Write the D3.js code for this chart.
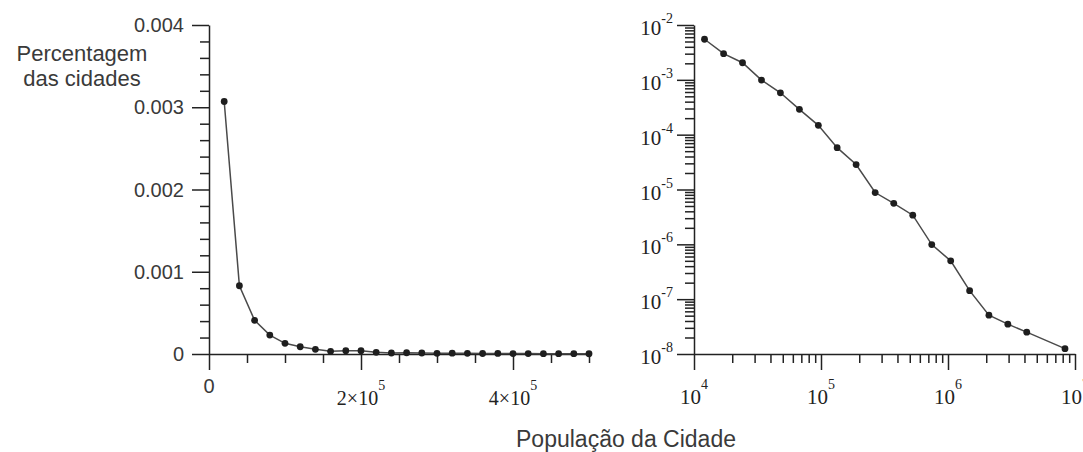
<!DOCTYPE html>
<html>
<head>
<meta charset="utf-8">
<script src="https://cdn.jsdelivr.net/npm/d3@7"></script>
<style>
  body { margin: 0; background: #fff; }
</style>
</head>
<body>
<svg></svg>
<script>
const size = {w: 1083, h: 452};
const svg = d3.select('svg')
    .attr('width', size.w)
    .attr('height', size.h);

// painel da esquerda (escala linear)
const linPop = [20000, 40000, 60000, 80000, 100000, 120000, 140000, 160000, 180000, 200000,
    220000, 240000, 260000, 280000, 300000, 320000, 340000, 360000, 380000, 400000,
    420000, 440000, 460000, 480000, 500000];
const linPct = [0.00307, 0.00083, 0.00041, 0.00023, 0.00013, 0.000088, 0.000057, 0.000033, 0.00004, 0.00004,
    0.00002, 0.000012, 0.000015, 0.000012, 0.000008, 0.00001, 0.000008, 0.000006, 0.000007, 0.000005,
    0.000005, 0.000004, 0.000004, 0.000004, 0.000003];
const linXTicks = [0, 200000, 400000];
const linXBase = ['0', '2\u00d710', '4\u00d710'];
const linXExp = ['', '5', '5'];
const linYTicks = [0, 0.001, 0.002, 0.003, 0.004];
const linYLabels = ['0', '0.001', '0.002', '0.003', '0.004'];

// painel da direita (log-log)
const logPop = [12100, 17100, 24100, 34000, 47900, 67600, 95300, 134000, 189000, 267000,
    374000, 528000, 745000, 1050000, 1480000, 2100000, 2960000, 4170000, 8340000];
const logPct = [5.5e-3, 3.0e-3, 2.05e-3, 9.9e-4, 5.8e-4, 2.9e-4, 1.48e-4, 5.8e-5, 2.85e-5, 8.8e-6,
    5.6e-6, 3.4e-6, 9.9e-7, 5.0e-7, 1.43e-7, 5.1e-8, 3.5e-8, 2.5e-8, 1.25e-8];
const logXTicks = [1e4, 1e5, 1e6, 1e7];
const logXExp = ['4', '5', '6', '7'];
const logYTicks = [1e-8, 1e-7, 1e-6, 1e-5, 1e-4, 1e-3, 1e-2];
const logYExp = ['-8', '-7', '-6', '-5', '-4', '-3', '-2'];

const axisColor = '#222';
const lineColor = '#4a4a4a';
const dotColor = '#1e1e1e';
const sans = '"Liberation Sans", Arial, sans-serif';
const serif = '"Liberation Serif", "Times New Roman", serif';

function styleAxis (g) {
    g.selectAll('line, path')
        .attr('stroke', axisColor)
        .attr('stroke-width', 1.5);
    g.selectAll('text').remove();
}

function drawTicks (x, y, xMajor, xMinor, yMajor, yMinor, x0, y0) {
    // minor ticks first, then major ticks + domain line
    let gxm = svg.append('g')
        .attr('transform', 'translate(0,' + y0 + ')')
        .call(d3.axisBottom(x).tickValues(xMinor).tickSize(9).tickSizeOuter(0));
    gxm.select('.domain').remove();
    styleAxis(gxm);

    let gx = svg.append('g')
        .attr('transform', 'translate(0,' + y0 + ')')
        .call(d3.axisBottom(x).tickValues(xMajor).tickSize(16).tickSizeOuter(0));
    styleAxis(gx);

    let gym = svg.append('g')
        .attr('transform', 'translate(' + x0 + ',0)')
        .call(d3.axisLeft(y).tickValues(yMinor).tickSize(9).tickSizeOuter(0));
    gym.select('.domain').remove();
    styleAxis(gym);

    let gy = svg.append('g')
        .attr('transform', 'translate(' + x0 + ',0)')
        .call(d3.axisLeft(y).tickValues(yMajor).tickSize(17).tickSizeOuter(0));
    styleAxis(gy);
}

function drawSeries (x, y, xs, ys) {
    let pts = xs.map((d, i) => [d, ys[i]]);
    let line = d3.line()
        .x(d => x(d[0]))
        .y(d => y(d[1]));
    svg.append('path')
        .datum(pts)
        .attr('d', line)
        .attr('fill', 'none')
        .attr('stroke', lineColor)
        .attr('stroke-width', 1.5);
    svg.append('g')
        .selectAll('circle')
        .data(pts)
        .enter()
        .append('circle')
        .attr('cx', d => x(d[0]))
        .attr('cy', d => y(d[1]))
        .attr('r', 3.4)
        .attr('fill', dotColor);
}

// ---- painel linear ----
const xLin = d3.scaleLinear().domain([0, 500000]).range([209, 589]);
const yLin = d3.scaleLinear().domain([0, 0.004]).range([354, 25]);

drawTicks(xLin, yLin,
    linXTicks, xLin.ticks(10).filter(d => !linXTicks.includes(d)),
    linYTicks, yLin.ticks(20).filter(d => !linYTicks.some(t => Math.abs(t - d) < 1e-9)),
    209, 354);

drawSeries(xLin, yLin, linPop, linPct);

svg.append('g')
    .selectAll('text')
    .data(linYTicks)
    .enter()
    .append('text')
    .attr('x', 184)
    .attr('y', d => yLin(d))
    .attr('dy', '0.36em')
    .attr('text-anchor', 'end')
    .attr('font-family', sans)
    .attr('font-size', 20)
    .attr('fill', '#3a3a3a')
    .text((d, i) => linYLabels[i]);

linXTicks.forEach(function (t, i) {
    if (linXExp[i] === '') {
        svg.append('text')
            .attr('x', xLin(t))
            .attr('y', 393)
            .attr('text-anchor', 'middle')
            .attr('font-family', sans)
            .attr('font-size', 20)
            .attr('fill', '#3a3a3a')
            .text(linXBase[i]);
        return;
    }
    let txt = svg.append('text')
        .attr('x', xLin(t))
        .attr('y', 405)
        .attr('text-anchor', 'middle')
        .attr('font-family', serif)
        .attr('font-size', 20)
        .attr('fill', '#222');
    txt.append('tspan').text(linXBase[i]);
    txt.append('tspan').attr('dy', -15).attr('font-size', 14).text(linXExp[i]);
});

// ---- painel log-log ----
const xLog = d3.scaleLog().domain([1e4, 1e7]).range([694, 1075]);
const yLog = d3.scaleLog().domain([1e-8, 1e-2]).range([354, 25]);

drawTicks(xLog, yLog,
    logXTicks, xLog.ticks().filter(d => !logXTicks.includes(d)),
    logYTicks, yLog.ticks().filter(d => !logYTicks.some(t => Math.abs(Math.log10(t) - Math.log10(d)) < 1e-6)),
    694, 354);

drawSeries(xLog, yLog, logPop, logPct);

logYTicks.forEach(function (t, i) {
    let txt = svg.append('text')
        .attr('x', 673)
        .attr('y', yLog(t) + 10)
        .attr('text-anchor', 'end')
        .attr('font-family', serif)
        .attr('font-size', 21)
        .attr('fill', '#222');
    txt.append('tspan').text('10');
    txt.append('tspan').attr('dy', -12).attr('font-size', 14).text(logYExp[i]);
});

logXTicks.forEach(function (t, i) {
    let txt = svg.append('text')
        .attr('x', xLog(t))
        .attr('y', 404)
        .attr('text-anchor', 'middle')
        .attr('font-family', serif)
        .attr('font-size', 21)
        .attr('fill', '#222');
    txt.append('tspan').text('10');
    txt.append('tspan').attr('dy', -15).attr('font-size', 14).text(logXExp[i]);
});

// ---- titulos ----
let yTitle = svg.append('text')
    .attr('text-anchor', 'middle')
    .attr('font-family', sans)
    .attr('font-size', 22)
    .attr('fill', '#3a3a3a');
yTitle.append('tspan').attr('x', 82).attr('y', 61).text('Percentagem');
yTitle.append('tspan').attr('x', 82).attr('y', 86).text('das cidades');

svg.append('text')
    .attr('x', 626)
    .attr('y', 447)
    .attr('text-anchor', 'middle')
    .attr('font-family', sans)
    .attr('font-size', 23)
    .attr('fill', '#3a3a3a')
    .text('População da Cidade');
</script>
</body>
</html>
